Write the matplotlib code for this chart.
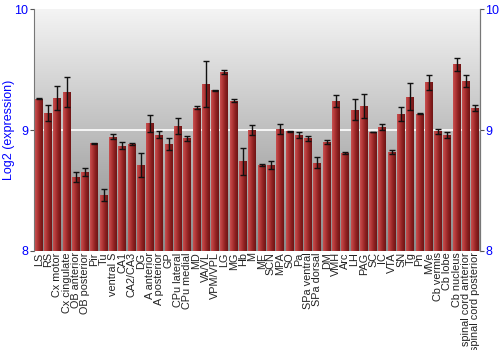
import numpy as np
import matplotlib
matplotlib.use("Agg")
import matplotlib.pyplot as plt
from matplotlib.colors import LinearSegmentedColormap

plt.rcParams['font.family'] = ['Liberation Sans', 'DejaVu Sans']

regions = ["LS", "RS", "Cx motor", "Cx cingulate", "OB anterior", "OB posterior",
           "Pir", "Tu", "ventral S", "CA1", "CA2/CA3", "DG", "A anterior",
           "A posterior", "GP", "CPu lateral", "CPu medial", "MD", "VA/VL",
           "VPM/VPL", "LG", "MG", "Hb", "M", "ME", "SCN", "MPA", "SO", "Pa",
           "SPa ventral", "SPa dorsal", "DM", "VMH", "Arc", "LH", "PAG", "SC",
           "IC", "VTA", "SN", "Tg", "Pn", "MVe", "Cb vermis", "Cb lobe",
           "Cb nucleus", "spinal cord anterior", "spinal cord posterior"]
values = [9.26, 9.14, 9.265, 9.315, 8.613, 8.652, 8.89, 8.46, 8.945, 8.87,
          8.884, 8.71, 9.055, 8.96, 8.884, 9.03, 8.93, 9.185, 9.38, 9.33,
          9.48, 9.243, 8.74, 9.0, 8.71, 8.71, 9.01, 8.99, 8.96, 8.93,
          8.73, 8.90, 9.24, 8.81, 9.166, 9.2, 8.983, 9.025, 8.82, 9.13,
          9.276, 9.135, 9.395, 8.99, 8.96, 9.544, 9.406, 9.182]
errors = [0.004, 0.065, 0.10, 0.127, 0.04, 0.03, 0.004, 0.05, 0.02, 0.03,
          0.01, 0.097, 0.07, 0.03, 0.05, 0.066, 0.024, 0.014, 0.19, 0.005,
          0.013, 0.014, 0.11, 0.04, 0.011, 0.03, 0.043, 0.005, 0.023, 0.017,
          0.044, 0.017, 0.052, 0.008, 0.087, 0.10, 0.003, 0.027, 0.018, 0.057,
          0.11, 0.004, 0.06, 0.022, 0.023, 0.055, 0.053, 0.022]

fig = plt.figure(figsize=(5, 3.5), dpi=100)
ax = fig.add_axes([0.068, 0.283, 0.892, 0.691])

x = np.arange(len(regions))
ymin, ymax = 8, 10
ax.set_xlim(-0.5, len(regions) - 0.5)
ax.set_ylim(ymin, ymax)

# background gradient
bg = LinearSegmentedColormap.from_list("bg", ["#8a8a8a", "#f4f4f4"])
grad = np.linspace(0, 1, 256).reshape(-1, 1)
ax.imshow(grad, cmap=bg, aspect="auto", origin="lower",
          extent=[-0.5, len(regions) - 0.5, ymin, ymax], zorder=0)
ax.axhline(9, color="white", lw=1.2, zorder=1)

# bars with horizontal shading
barcm = LinearSegmentedColormap.from_list("bar", ["#c85050", "#b03535", "#8c2020", "#6e1515"])
hgrad = np.linspace(0, 1, 64).reshape(1, -1)
bars = ax.bar(x, np.array(values) - ymin, bottom=ymin, width=0.86,
              color="#a02c2c", edgecolor="none", zorder=2)
for b in bars:
    im = ax.imshow(hgrad, cmap=barcm, aspect="auto",
                   extent=[b.get_x(), b.get_x() + b.get_width(), ymin, b.get_y() + b.get_height()],
                   zorder=2.5)
    im.set_clip_path(b)

ax.errorbar(x, values, yerr=errors, fmt="none", ecolor="#111111",
            elinewidth=1, capsize=2.2, capthick=1, zorder=3)

ax.set_xticks(x)
ax.set_xticklabels(regions, rotation=90, fontsize=7.8, color="#222222")
ax.tick_params(axis="x", length=0, pad=1)
ax.set_yticks([8, 9, 10])
ax.tick_params(axis="y", colors="#555555", labelcolor="blue", labelsize=9, length=3, pad=1)
for s in ax.spines.values():
    s.set_color("#777777")
ax.spines["bottom"].set_visible(False)
ax.spines["top"].set_visible(False)
ax.set_ylabel("Log2 (expression)", color="blue", fontsize=9, va="center")
ax.yaxis.set_label_coords(-0.056, 0.5)

ax2 = ax.twinx()
ax2.set_ylim(ymin, ymax)
ax2.set_yticks([8, 9, 10])
ax2.tick_params(axis="y", colors="#555555", labelcolor="blue", labelsize=9, length=3, pad=1)
for s in ax2.spines.values():
    s.set_visible(False)
ax2.spines["right"].set_visible(True)
ax2.spines["right"].set_color("#777777")

fig.savefig("out.png", dpi=100)
